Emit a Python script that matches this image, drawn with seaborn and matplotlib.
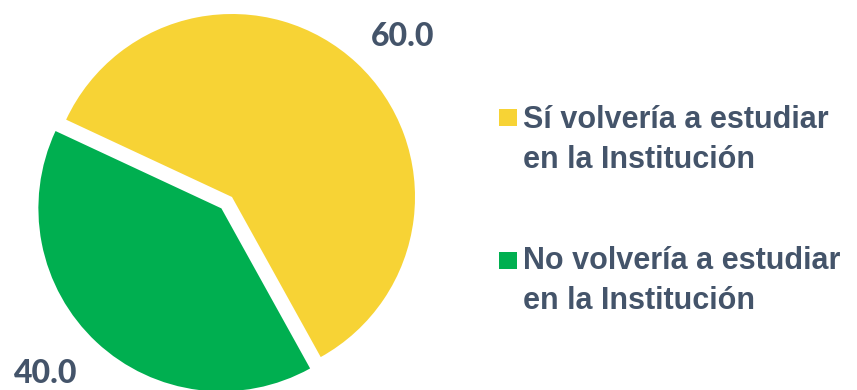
import matplotlib
matplotlib.use("Agg")
import matplotlib.pyplot as plt
from matplotlib.patches import Rectangle
import seaborn as sns

# Survey answer shares (percent)
categories = ["Sí volvería a estudiar\nen la Institución",
              "No volvería a estudiar\nen la Institución"]
values = [60.0, 40.0]
colors = ["#F7D335", "#00AF50"]

sns.set_theme(style="white")
text_color = "#44546A"

W, H = 857, 390
fig = plt.figure(figsize=(W / 100, H / 100), dpi=100)
fig.patch.set_facecolor("white")

# Pie geometry in pixels
cx, cy, R = 232, 197, 183
lim = 1.25
side = 2 * lim * R
ax = fig.add_axes([(cx - side / 2) / W, ((H - cy) - side / 2) / H, side / W, side / H])

ax.pie(values, colors=colors, startangle=-61, counterclock=True,
       explode=[0, 0.085], radius=1.0,
       wedgeprops=dict(linewidth=0))
ax.set_xlim(-lim, lim)
ax.set_ylim(-lim, lim)
ax.set_aspect("equal")
ax.axis("off")

# Value labels
label_pos = [(0.935, 0.875), (-1.02, -0.967)]
for v, (lx, ly) in zip(values, label_pos):
    ax.text(lx, ly, f"{v:.1f}", ha="center", va="center",
            fontsize=23, fontweight=900, color=text_color,
            family=["Lato", "DejaVu Sans"])

# Legend drawn at the right side
legend_font = ["Liberation Sans", "DejaVu Sans"]
entries = [(109, 128), (252, 269)]
for cat, col, (sq_top, base) in zip(categories, colors, entries):
    fig.add_artist(Rectangle((499 / W, (H - sq_top - 17) / H), 18 / W, 17 / H,
                             transform=fig.transFigure, facecolor=col,
                             edgecolor="none"))
    for i, line in enumerate(cat.split("\n")):
        fig.text(523 / W, (H - (base + 40 * i)) / H, line,
                 ha="left", va="baseline", fontsize=22, fontweight="bold",
                 color=text_color, family=legend_font)

fig.savefig("out.png", dpi=100, facecolor="white")
